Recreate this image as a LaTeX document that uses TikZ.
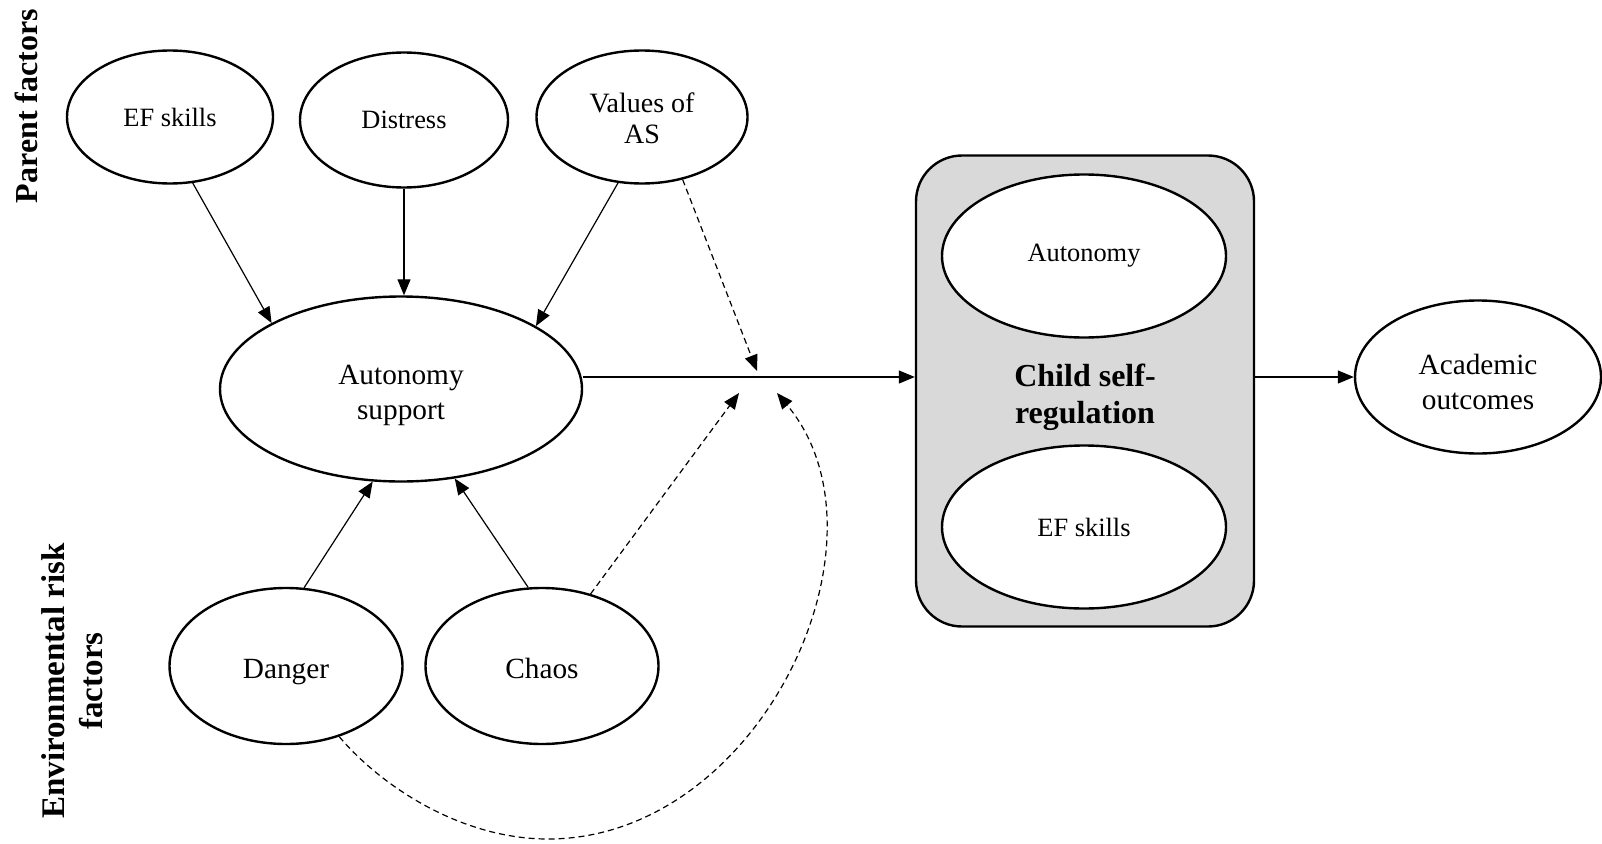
\documentclass[tikz,border=0pt]{standalone}
\usepackage{fontspec}
\setmainfont{Liberation Serif}
\usetikzlibrary{shapes.geometric,arrows.meta,positioning}
\definecolor{regiongray}{RGB}{217,217,217}

\begin{document}
\begin{tikzpicture}[
    x=1pt, y=1pt,
    every node/.style={align=center, font=\fontsize{26.4}{33}\selectfont},
    factor/.style={ellipse, draw, line width=2.4pt, fill=white, inner sep=0pt},
    bigtext/.style={font=\fontsize{29.3}{34.6}\selectfont},
    drop/.style={execute at begin node={\rule{0pt}{#1}}},
    region/.style={rectangle, rounded corners=46pt, draw, line width=2.4pt, fill=regiongray, minimum width=338pt, minimum height=471pt},
    heading/.style={rotate=90, font=\fontsize{32}{38}\selectfont\bfseries},
    arrow/.style={line width=1.2pt, -{Triangle[length=16pt,width=13pt]}},
    dasharrow/.style={arrow, dash pattern=on 6pt off 4pt}
]
\useasboundingbox (0,0) rectangle (1602,-843);

% Side headings
\node[heading] (parent) at (26,-106) {Parent factors};
\node[heading, font=\fontsize{33}{38}\selectfont\bfseries] (env) at (72,-681) {Environmental risk\\factors};

% Parent factors
\node[factor, minimum width=206pt, minimum height=133pt] (efp) at (170,-117) {EF skills};
\node[factor, minimum width=208pt, minimum height=135pt] (dist) at (404,-120) {Distress};
\node[factor, minimum width=211pt, minimum height=133pt, font=\fontsize{28}{31}\selectfont] (val) at (642,-117) {\rule{0pt}{22pt}Values of\\AS};

% Autonomy support
\node[factor, bigtext, minimum width=362pt, minimum height=185pt] (as) at (401,-389) {\rule{0pt}{32pt}Autonomy\\support};

% Environmental risk factors
\node[factor, bigtext, minimum width=233pt, minimum height=156pt, text depth=0pt, drop=24pt] (danger) at (286,-666) {Danger};
\node[factor, bigtext, minimum width=233pt, minimum height=156pt, text depth=0pt, drop=24pt] (chaos) at (542,-666) {Chaos};

% Child self-regulation
\node[region] (csr) at (1085,-391) {};
\node[factor, minimum width=284pt, minimum height=163pt] (aut) at (1084,-256) {Autonomy};
\node[factor, minimum width=284pt, minimum height=163pt] (efc) at (1084,-527) {EF skills};
\node[font=\fontsize{32}{37}\selectfont\bfseries] (csrlabel) at (1085,-397) {Child self-\\regulation};

% Outcome
\node[factor, bigtext, minimum width=246pt, minimum height=153pt] (acad) at (1478,-377) {\rule{0pt}{30pt}Academic\\outcomes};

% Moderation targets
\coordinate (tipV) at (757,-371);
\coordinate (tipC) at (739,-393);
\coordinate (tipD) at (777,-393);
\coordinate (dip) at (548,-839);

% Connections
\draw[arrow] (efp.-71) -- (as.153);
\draw[arrow] (dist.south) -- (dist.south |- as.north);
\draw[arrow] (val.-110) -- (as.25);
\draw[arrow] (danger.77) -- (as.-107);
\draw[arrow] (chaos.100) -- (as.-59);
\draw[arrow] (as.east |- acad.west) -- (csr.west |- acad.west);
\draw[arrow] (csr.east |- acad.west) -- (acad.west);

% Moderators
\draw[dasharrow] (val.-57) -- (tipV);
\draw[dasharrow] (chaos.56) -- (tipC);
\draw[dasharrow] (danger.-53) .. controls (380,-785) and (460,-839) .. (dip) .. controls (760,-839) and (900,-540) .. (tipD);

\end{tikzpicture}
\end{document}
